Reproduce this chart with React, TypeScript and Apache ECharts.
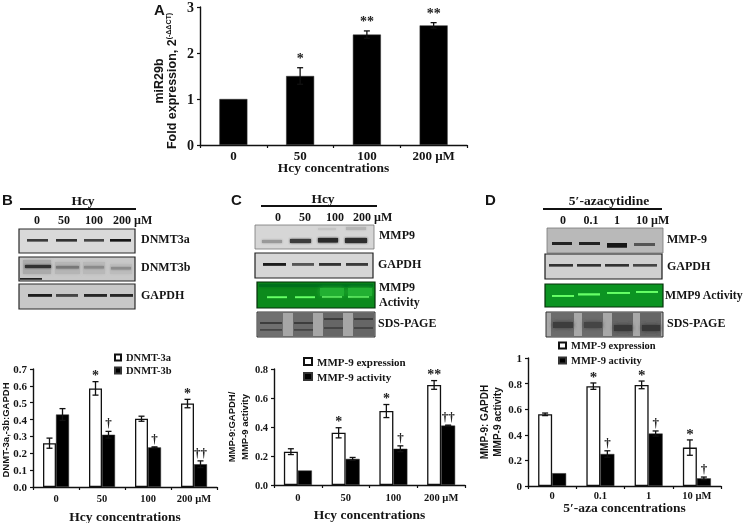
import React, { useEffect, useRef } from "react";
import * as echarts from "echarts";

const SERIF = "'Liberation Serif', 'Times New Roman', serif";
const SANS = "'Liberation Sans', Arial, sans-serif";
const INK = "#151515";

const hcyTicks = ["0", "50", "100", "200 µM"];
const azaTicks = ["0", "0.1", "1", "10 µM"];

const miR29b = [1, 1.5, 2.4, 2.6];
const miR29bErr = [0, 0.18, 0.08, 0.06];
const miR29bSig = ["", "*", "**", "**"];

const dnmt3a = [0.26, 0.585, 0.405, 0.495];
const dnmt3aErr = [0.03, 0.04, 0.015, 0.025];
const dnmt3aSig = ["", "*", "", "*"];
const dnmt3b = [0.43, 0.31, 0.235, 0.135];
const dnmt3bErr = [0.035, 0.02, 0.003, 0.02];
const dnmt3bSig = ["", "†", "†", "††"];

const hcyExpr = [0.23, 0.36, 0.51, 0.69];
const hcyExprErr = [0.02, 0.035, 0.045, 0.03];
const hcyExprSig = ["", "*", "*", "**"];
const hcyAct = [0.1, 0.18, 0.25, 0.41];
const hcyActErr = [0, 0.01, 0.02, 0.003];
const hcyActSig = ["", "", "†", "††"];

const azaExpr = [0.56, 0.78, 0.79, 0.3];
const azaExprErr = [0.01, 0.025, 0.03, 0.06];
const azaExprSig = ["", "*", "*", "*"];
const azaAct = [0.1, 0.25, 0.41, 0.06];
const azaActErr = [0, 0.025, 0.02, 0.01];
const azaActSig = ["", "†", "†", "†"];

type Band = [number, number, number, number, string, number?];

function txt(text: string, x: number, y: number, size: number, align = "left", family = SERIF) {
  return {
    type: "text",
    z: 20,
    style: {
      text,
      x,
      y,
      font: `bold ${size}px ${family}`,
      fill: INK,
      align,
      verticalAlign: "middle",
    },
  };
}

function rect(x: number, y: number, w: number, h: number, fill: any, stroke?: string, lw = 0, blur = 0, z = 10) {
  return {
    type: "rect",
    z,
    shape: { x, y, width: w, height: h },
    style: {
      fill,
      stroke: stroke || undefined,
      lineWidth: lw,
      shadowBlur: blur,
      shadowColor: blur ? fill : undefined,
    },
  };
}

function blot(x: number, y: number, w: number, h: number, bg: string, border: string, lw: number, bands: Band[]) {
  const out: any[] = [rect(x, y, w, h, bg, undefined, 0, 0, 10)];
  bands.forEach(([bx, by, bw, bh, c, blur]) => {
    out.push(rect(bx, by, bw, bh, c, undefined, 0, blur === undefined ? 2 : blur, 11));
  });
  out.push(rect(x, y, w, h, "none", border, lw, 0, 12));
  return out;
}

function laneBands(xs: number[], ws: number[], y: number, h: number, colors: string[], blur = 2): Band[] {
  return xs.map((bx, i) => [bx, y, ws[i], h, colors[i % colors.length], blur] as Band);
}

function errSeries(gridIndex: number, values: number[], errs: number[], sig: string[], dx: number, starSize = 14, starGap = 6) {
  return {
    type: "custom",
    xAxisIndex: gridIndex,
    yAxisIndex: gridIndex,
    z: 5,
    silent: true,
    data: values.map((v, i) => [i, v, errs[i]]),
    encode: { x: 0, y: 1 },
    renderItem: (params: any, api: any) => {
      const i = api.value(0);
      const v = api.value(1);
      const e = api.value(2);
      const c = api.coord([i, v]);
      const hi = api.coord([i, v + e]);
      const lo = api.coord([i, v - e]);
      const x = c[0] + dx;
      const lineStyle = { stroke: "#111", lineWidth: 1.3, fill: "none" };
      const children: any[] = [];
      if (e > 0) {
        children.push({ type: "line", shape: { x1: x, y1: hi[1], x2: x, y2: lo[1] }, style: lineStyle });
        children.push({ type: "line", shape: { x1: x - 3, y1: hi[1], x2: x + 3, y2: hi[1] }, style: lineStyle });
        children.push({ type: "line", shape: { x1: x - 3, y1: lo[1], x2: x + 3, y2: lo[1] }, style: lineStyle });
      }
      const s = sig[params.dataIndex];
      if (s) {
        const isStar = s[0] === "*";
        children.push({
          type: "text",
          style: {
            text: s,
            x,
            y: hi[1] - (isStar ? starGap : 2),
            font: `bold ${isStar ? starSize : 13}px ${SERIF}`,
            fill: "#222",
            align: "center",
            verticalAlign: isStar ? "middle" : "bottom",
          },
        });
      }
      return { type: "group", children };
    },
  };
}

function xAxis(gridIndex: number, data: string[], name: string, size: number, nameSize: number, margin: number, nameGap: number) {
  return {
    type: "category",
    gridIndex,
    data,
    name,
    nameLocation: "middle",
    nameGap,
    nameMoveOverlap: false,
    nameTextStyle: { fontFamily: SERIF, fontWeight: "bold", fontSize: nameSize, color: INK },
    axisLine: { lineStyle: { color: "#111", width: 1.4 } },
    axisTick: { show: true, length: 3, inside: false, lineStyle: { color: "#111", width: 1.2 } },
    axisLabel: { fontFamily: SERIF, fontWeight: "bold", fontSize: size, color: INK, margin, interval: 0 },
    splitLine: { show: false },
  };
}

function yAxis(gridIndex: number, max: number, interval: number, fmt: (v: number) => string, name: any, size: number, nameGap: number, nameSize: number, shift = 0, rich?: any) {
  return {
    type: "value",
    gridIndex,
    min: 0,
    max,
    interval,
    name,
    nameLocation: "middle",
    nameRotate: 90,
    nameGap,
    nameMoveOverlap: false,
    nameTextStyle: { fontFamily: SANS, fontWeight: "bold", fontSize: nameSize, color: INK, lineHeight: 13, padding: [0, shift, 0, 0], rich },
    axisLine: { show: true, lineStyle: { color: "#111", width: 1.4 } },
    axisTick: { show: true, length: 3, lineStyle: { color: "#111", width: 1.2 } },
    axisLabel: { fontFamily: SERIF, fontWeight: "bold", fontSize: size, color: INK, margin: 6, formatter: fmt },
    splitLine: { show: false },
  };
}

function bar(gridIndex: number, name: string, data: number[], white: boolean, barWidth: number) {
  return {
    type: "bar",
    name,
    xAxisIndex: gridIndex,
    yAxisIndex: gridIndex,
    data,
    barWidth,
    barGap: 0,
    itemStyle: white
      ? { color: "#fff", borderColor: "#111", borderWidth: 1.3 }
      : { color: "#000", borderColor: "#333", borderWidth: 0.5 },
  };
}

function legend(names: string[], left: number, top: number, gap: number, size: number, iw: number, ih: number) {
  return {
    orient: "vertical",
    left,
    top,
    data: names.map((name) => ({ name, icon: "rect" })),
    itemWidth: iw,
    itemHeight: ih,
    itemGap: gap,
    padding: 0,
    selectedMode: false,
    textStyle: { fontFamily: SERIF, fontWeight: "bold", fontSize: size, color: INK },
  };
}

function buildGraphics() {
  const g: any[] = [];
  // panel letters
  g.push(txt("A", 154, 9, 15, "left", SANS));
  g.push(txt("B", 2, 199, 15, "left", SANS));
  g.push(txt("C", 231, 199, 15, "left", SANS));
  g.push(txt("D", 485, 199, 15, "left", SANS));

  // panel B
  g.push(txt("Hcy", 83, 200, 13.5, "center"));
  g.push(rect(20, 208, 116, 2, "#111"));
  g.push(txt("0", 37, 220, 12, "center"), txt("50", 64, 220, 12, "center"), txt("100", 94, 220, 12, "center"), txt("200 µM", 113, 220, 12));
  const bx = [27, 56, 84, 110];
  const bw = [21, 21, 20, 21];
  g.push(...blot(19, 229, 116, 24, "#d9d9d9", "#2a2a2a", 1.2, laneBands(bx, bw, 239, 2.4, ["#3a3a3a", "#333", "#444", "#151515"], 1)));
  g.push(...blot(19, 257, 116, 24, "#c8c8c8", "#222", 1.2, [
    [23, 260, 28, 14, "#aaa", 3], [25, 265, 26, 3, "#333", 2],
    [55, 262, 25, 12, "#b5b5b5", 3], [56, 266, 23, 2.5, "#777", 2],
    [83, 262, 22, 12, "#b8b8b8", 3], [84, 266, 20, 2.5, "#8a8a8a", 2],
    [110, 264, 22, 10, "#bcbcbc", 3], [111, 267, 20, 2.5, "#8c8c8c", 2],
    [20, 278, 22, 1.5, "#222", 1],
  ]));
  g.push(...blot(19, 284, 116, 25, "#c8c8c8", "#2a2a2a", 1.2, laneBands([28, 56, 84, 110], [24, 22, 23, 23], 294, 2.6, ["#1f1f1f", "#444", "#252525", "#252525"], 1)));
  g.push(txt("DNMT3a", 141, 239, 12), txt("DNMT3b", 141, 267, 12), txt("GAPDH", 141, 295, 12));

  // panel C
  g.push(txt("Hcy", 323, 198, 13.5, "center"));
  g.push(rect(261, 205, 116, 2, "#111"));
  g.push(txt("0", 278, 217, 12, "center"), txt("50", 305, 217, 12, "center"), txt("100", 335, 217, 12, "center"), txt("200 µM", 353, 217, 12));
  g.push(...blot(255, 225, 119, 24, "#d6d6d6", "#777", 0.8, [
    [262, 240, 20, 3, "#999", 2.5],
    [290, 239, 21, 4, "#3c3c3c", 2.5],
    [318, 238, 20, 4.5, "#2a2a2a", 2.5],
    [345, 238, 22, 5, "#2f2f2f", 2.5],
    [318, 228, 18, 2, "#c4c4c4", 2],
    [346, 227, 20, 3, "#b5b5b5", 2],
  ]));
  g.push(...blot(255, 253, 118, 25, "#d6d6d6", "#222", 1.2, laneBands([263, 292, 319, 346], [23, 22, 22, 22], 263, 2.6, ["#1a1a1a", "#555", "#333", "#3a3a3a"], 1)));
  g.push(...blot(257, 282, 118, 26, "#0c8a1c", "#06300a", 1.2, [
    [259, 284, 114, 3, "#06701a", 3],
    [267, 296.5, 20, 1.6, "#66ff66", 1.5],
    [295, 296.5, 20, 1.6, "#66ff66", 1.5],
    [322, 295.5, 20, 2, "#77ff77", 1.5],
    [348, 295.5, 21, 2, "#77ff77", 1.5],
    [320, 288, 24, 8, "#22b033", 5],
    [348, 288, 24, 8, "#22b033", 5],
  ]));
  g.push(...blot(257, 312, 118, 25, "#a6a6a6", "#333", 1, [
    [258, 313, 25, 23, "#6f6f6f", 1.5], [260, 322, 22, 2, "#3d3d3d", 1.5], [260, 329, 22, 1.5, "#444", 1.5],
    [293, 313, 20, 23, "#6b6b6b", 1.5], [294, 322, 19, 2, "#3d3d3d", 1.5], [294, 329, 19, 1.5, "#444", 1.5],
    [323, 313, 20, 23, "#666", 1.5], [324, 318, 19, 2, "#3d3d3d", 1.5], [324, 327, 19, 2, "#444", 1.5],
    [353, 313, 21, 23, "#666", 1.5], [354, 318, 19, 2, "#3d3d3d", 1.5], [354, 327, 19, 2, "#444", 1.5],
  ]));
  g.push(txt("MMP9", 379, 235, 12), txt("GAPDH", 378, 264, 12), txt("MMP9", 379, 287, 12), txt("Activity", 379, 302, 12), txt("SDS-PAGE", 378, 323, 12));

  // panel D
  g.push(txt("5′-azacytidine", 609, 200, 13.5, "center"));
  g.push(rect(543, 208, 119, 2, "#111"));
  g.push(txt("0", 563, 220, 12, "center"), txt("0.1", 591, 220, 12, "center"), txt("1", 617, 220, 12, "center"), txt("10 µM", 636, 220, 12));
  g.push(...blot(547, 228, 116, 25, "#b9b9b9", "#777", 0.8, [
    [552, 242, 20, 3, "#222", 1.5],
    [579, 242, 21, 3, "#222", 1.5],
    [607, 243, 20, 4.5, "#161616", 1.5],
    [634, 243, 21, 3, "#555", 1.5],
  ]));
  g.push(...blot(545, 254, 117, 25, "#d0d0d0", "#1a1a1a", 1.2, laneBands([549, 577, 605, 633], [24, 24, 24, 24], 264, 2.4, ["#333", "#333", "#333", "#444"], 1)));
  g.push(...blot(545, 284, 118, 23, "#0c9422", "#06300a", 1.2, [
    [552, 295, 22, 1.8, "#66ff66", 1.5],
    [578, 293.5, 22, 1.8, "#66ff66", 1.5],
    [607, 292, 23, 1.8, "#66ff66", 1.5],
    [636, 291, 22, 1.8, "#66ff66", 1.5],
  ]));
  g.push(...blot(546, 312, 117, 25, "#a8a8a8", "#333", 1, [
    [551, 313, 23, 23, "#6c6c6c", 1.5], [553, 322, 20, 6, "#3d3d3d", 4],
    [582, 313, 21, 23, "#6c6c6c", 1.5], [584, 322, 18, 6, "#444", 4],
    [612, 313, 21, 23, "#666", 1.5], [614, 325, 18, 6, "#383838", 4],
    [640, 313, 21, 23, "#666", 1.5], [642, 325, 18, 6, "#383838", 4],
  ]));
  g.push(txt("MMP-9", 667, 239, 12), txt("GAPDH", 667, 266, 12), txt("MMP9 Activity", 665, 295, 11.8), txt("SDS-PAGE", 667, 323, 12));
  return g;
}

const fix1 = (v: number) => v.toFixed(1);
const plain = (v: number) => String(v);
const azaFmt = (v: number) => (v === 0 || v === 1 ? String(v) : v.toFixed(1));

export default function App() {
  const ref = useRef<HTMLDivElement>(null);
  useEffect(() => {
    document.body.style.margin = "0";
    document.body.style.background = "#fff";
    const chart = echarts.init(ref.current!, undefined, { renderer: "svg" });
    chart.setOption({
      animation: false,
      backgroundColor: "#fff",
      grid: [
        { left: 200, top: 7, width: 267, height: 138, outerBoundsMode: "none" },
        { left: 33, top: 369, width: 184, height: 118, outerBoundsMode: "none" },
        { left: 274, top: 369, width: 191, height: 116, outerBoundsMode: "none" },
        { left: 528, top: 358, width: 193, height: 128, outerBoundsMode: "none" },
      ],
      xAxis: [
        xAxis(0, hcyTicks, "Hcy concentrations", 13, 13.5, 4, 15),
        xAxis(1, hcyTicks, "Hcy concentrations", 10.5, 13.5, 6, 22),
        xAxis(2, hcyTicks, "Hcy concentrations", 10.5, 13.5, 7, 22),
        xAxis(3, azaTicks, "5′-aza concentrations", 10.5, 13.5, 4, 14),
      ],
      yAxis: [
        yAxis(0, 3, 1, plain, "miR29b\nFold expression, 2{sup|(-ΔΔCT)}", 14, 22, 12.5, 10, { sup: { fontFamily: SANS, fontWeight: "bold", fontSize: 7, color: INK, verticalAlign: "top", lineHeight: 13 } }),
        yAxis(1, 0.7, 0.1, fix1, "DNMT-3a,-3b:GAPDH", 11, 21, 9.5, 4),
        yAxis(2, 0.8, 0.2, fix1, "MMP-9:GAPDH/\nMMP-9 activity", 10.5, 23, 9.5),
        yAxis(3, 1, 0.2, azaFmt, "MMP-9: GAPDH\nMMP-9 activity", 11, 24, 10),
      ],
      legend: [
        legend(["DNMT-3a", "DNMT-3b"], 114, 352, 2, 10.5, 6, 6),
        legend(["MMP-9 expression"], 303, 356, 6, 11, 8, 7),
        legend(["MMP-9 activity"], 303, 371, 6, 11, 8, 7),
        legend(["MMP-9 expression "], 558, 340, 4, 10.5, 7, 6),
        legend(["MMP-9 activity "], 558, 355, 4, 10.5, 7, 6),
      ],
      series: [
        bar(0, "miR29b", miR29b, false, 28),
        errSeries(0, miR29b, miR29bErr, miR29bSig, 0, 14, 9),

        bar(1, "DNMT-3a", dnmt3a, true, 13),
        bar(1, "DNMT-3b", dnmt3b, false, 13),
        errSeries(1, dnmt3a, dnmt3aErr, dnmt3aSig, -6.5),
        errSeries(1, dnmt3b, dnmt3bErr, dnmt3bSig, 6.5),

        bar(2, "MMP-9 expression", hcyExpr, true, 14),
        bar(2, "MMP-9 activity", hcyAct, false, 14),
        errSeries(2, hcyExpr, hcyExprErr, hcyExprSig, -7),
        errSeries(2, hcyAct, hcyActErr, hcyActSig, 7),

        bar(3, "MMP-9 expression ", azaExpr, true, 14),
        bar(3, "MMP-9 activity ", azaAct, false, 14),
        errSeries(3, azaExpr, azaExprErr, azaExprSig, -7, 15),
        errSeries(3, azaAct, azaActErr, azaActSig, 7),
      ],
      graphic: { elements: buildGraphics() },
    });
    return () => chart.dispose();
  }, []);
  return <div ref={ref} style={{ width: 745, height: 523, filter: "blur(0.4px)" }} />;
}
